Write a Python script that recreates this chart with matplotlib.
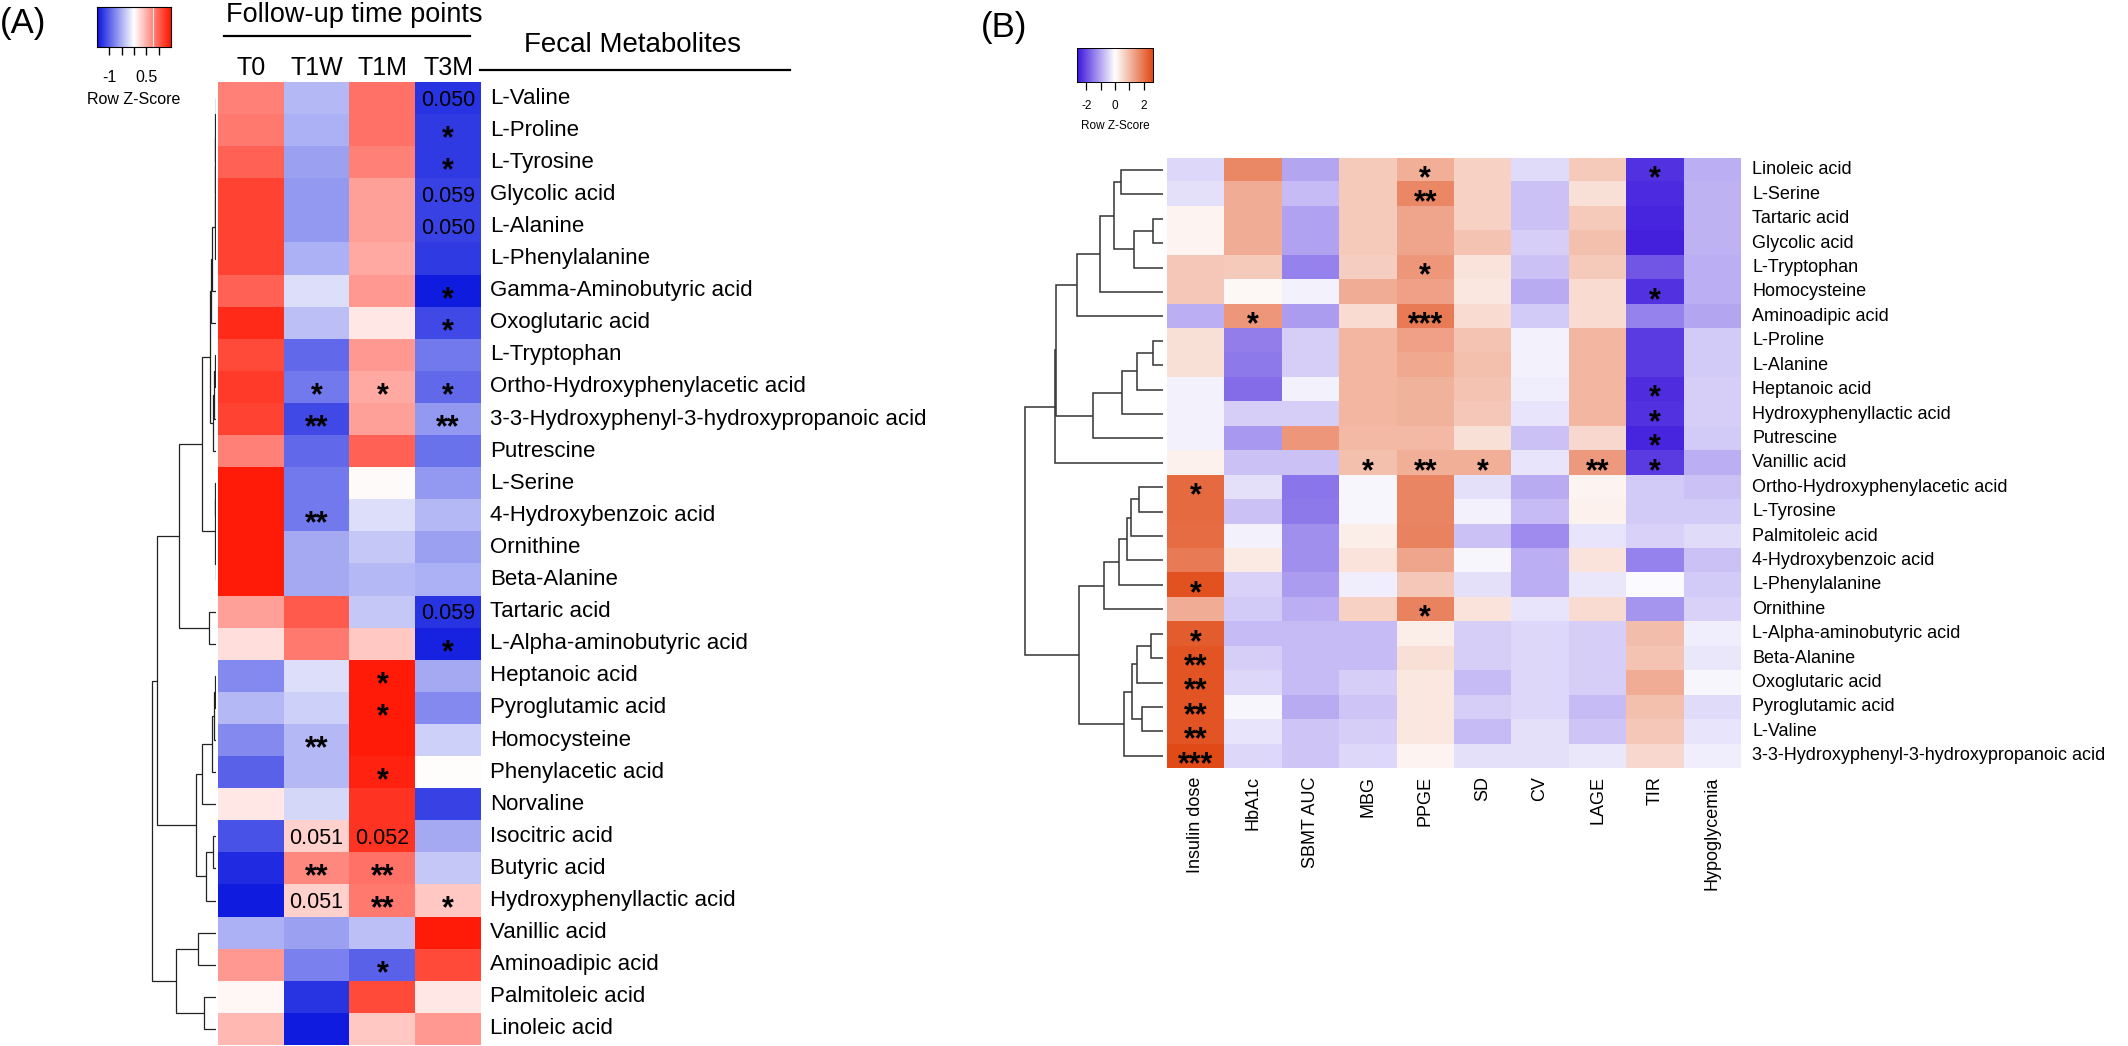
import numpy as np
import matplotlib
matplotlib.use('Agg')
import matplotlib.pyplot as plt
from matplotlib.colors import LinearSegmentedColormap
from matplotlib.lines import Line2D

plt.rcParams['font.family'] = ['Liberation Sans', 'DejaVu Sans']

# ---------------- Panel A data ----------------
a_timepoints = ['T0', 'T1W', 'T1M', 'T3M']
a_metabolites = [
    'L-Valine', 'L-Proline', 'L-Tyrosine', 'Glycolic acid', 'L-Alanine',
    'L-Phenylalanine', 'Gamma-Aminobutyric acid', 'Oxoglutaric acid',
    'L-Tryptophan', 'Ortho-Hydroxyphenylacetic acid',
    '3-3-Hydroxyphenyl-3-hydroxypropanoic acid', 'Putrescine', 'L-Serine',
    '4-Hydroxybenzoic acid', 'Ornithine', 'Beta-Alanine', 'Tartaric acid',
    'L-Alpha-aminobutyric acid', 'Heptanoic acid', 'Pyroglutamic acid',
    'Homocysteine', 'Phenylacetic acid', 'Norvaline', 'Isocitric acid',
    'Butyric acid', 'Hydroxyphenyllactic acid', 'Vanillic acid',
    'Aminoadipic acid', 'Palmitoleic acid', 'Linoleic acid']
a_zscores = [
    [0.80, -0.45, 0.90, -1.30],
    [0.85, -0.50, 0.90, -1.25],
    [1.00, -0.60, 0.80, -1.25],
    [1.20, -0.65, 0.60, -1.20],
    [1.20, -0.65, 0.60, -1.20],
    [1.20, -0.50, 0.55, -1.25],
    [1.00, -0.20, 0.65, -1.45],
    [1.35, -0.40, 0.15, -1.15],
    [1.15, -0.95, 0.65, -0.85],
    [1.25, -0.85, 0.55, -0.95],
    [1.20, -1.15, 0.60, -0.65],
    [0.80, -0.95, 1.00, -0.90],
    [1.45, -0.85, 0.03, -0.65],
    [1.45, -0.85, -0.20, -0.45],
    [1.45, -0.55, -0.35, -0.60],
    [1.45, -0.55, -0.45, -0.50],
    [0.60, 1.05, -0.35, -1.30],
    [0.20, 0.85, 0.35, -1.40],
    [-0.75, -0.20, 1.45, -0.55],
    [-0.45, -0.30, 1.45, -0.75],
    [-0.75, -0.45, 1.45, -0.30],
    [-1.00, -0.45, 1.40, 0.02],
    [0.15, -0.25, 1.30, -1.20],
    [-1.10, 0.30, 1.30, -0.55],
    [-1.35, 0.75, 0.90, -0.35],
    [-1.45, 0.30, 0.85, 0.35],
    [-0.50, -0.60, -0.40, 1.45],
    [0.65, -0.80, -1.00, 1.15],
    [0.05, -1.30, 1.15, 0.15],
    [0.45, -1.45, 0.35, 0.65]]
# (row, column, text)
a_marks = [
    (0, 3, '0.050'), (1, 3, '*'), (2, 3, '*'), (3, 3, '0.059'), (4, 3, '0.050'),
    (6, 3, '*'), (7, 3, '*'), (9, 1, '*'), (9, 2, '*'), (9, 3, '*'),
    (10, 1, '**'), (10, 3, '**'), (13, 1, '**'), (16, 3, '0.059'), (17, 3, '*'),
    (18, 2, '*'), (19, 2, '*'), (20, 1, '**'), (21, 2, '*'),
    (23, 1, '0.051'), (23, 2, '0.052'), (24, 1, '**'), (24, 2, '**'),
    (25, 1, '0.051'), (25, 2, '**'), (25, 3, '*'), (27, 2, '*')]
# row dendrogram pieces: (left, right, merge height)
a_c0_7 = (((((((0, 1, 0.5), 2, 0.8), 3, 1.0), 4, 1.2), 5, 1.5), 6, 4.0), 7, 5.0)
a_c8_11 = (((8, 9, 1.0), 10, 2.0), 11, 3.0)
a_c12_15 = ((12, 13, 1.0), (14, 15, 0.5), 1.5)
a_c18_25 = (((((18, 19, 1.0), 20, 2.5), 21, 4.0), 22, 14.0),
            ((23, 24, 3.0), 25, 10.0), 20.0)
a_c26_29 = ((26, 27, 18.0), (28, 29, 12.0), 40.0)
a_tree = (((((a_c0_7, a_c8_11, 6.0), a_c12_15, 14.0), (16, 17, 7.0), 37.0),
           a_c18_25, 59.0), a_c26_29, 64.0)

# ---------------- Panel B data ----------------
b_clinical = ['Insulin dose', 'HbA1c', 'SBMT AUC', 'MBG', 'PPGE', 'SD', 'CV',
              'LAGE', 'TIR', 'Hypoglycemia']
b_metabolites = [
    'Linoleic acid', 'L-Serine', 'Tartaric acid', 'Glycolic acid',
    'L-Tryptophan', 'Homocysteine', 'Aminoadipic acid', 'L-Proline',
    'L-Alanine', 'Heptanoic acid', 'Hydroxyphenyllactic acid', 'Putrescine',
    'Vanillic acid', 'Ortho-Hydroxyphenylacetic acid', 'L-Tyrosine',
    'Palmitoleic acid', '4-Hydroxybenzoic acid', 'L-Phenylalanine',
    'Ornithine', 'L-Alpha-aminobutyric acid', 'Beta-Alanine',
    'Oxoglutaric acid', 'Pyroglutamic acid', 'L-Valine',
    '3-3-Hydroxyphenyl-3-hydroxypropanoic acid']
b_zscores = [
    [-0.45, 1.70, -1.00, 0.75, 1.15, 0.65, -0.40, 0.75, -2.30, -0.90],
    [-0.35, 1.20, -0.75, 0.75, 1.70, 0.65, -0.70, 0.45, -2.40, -0.85],
    [0.15, 1.20, -1.05, 0.75, 1.30, 0.65, -0.70, 0.75, -2.45, -0.85],
    [0.15, 1.20, -1.05, 0.75, 1.30, 0.85, -0.55, 0.90, -2.50, -0.85],
    [0.80, 0.75, -1.40, 0.70, 1.50, 0.40, -0.70, 0.75, -1.90, -0.90],
    [0.80, 0.10, -0.15, 1.20, 1.35, 0.35, -0.95, 0.50, -2.30, -0.90],
    [-0.90, 1.50, -1.10, 0.50, 1.90, 0.50, -0.60, 0.50, -1.40, -1.00],
    [0.45, -1.45, -0.55, 1.05, 1.35, 0.85, -0.15, 1.05, -2.20, -0.60],
    [0.45, -1.50, -0.55, 1.05, 1.25, 0.90, -0.15, 1.05, -2.20, -0.60],
    [-0.15, -1.65, -0.15, 1.05, 1.10, 0.85, -0.20, 1.05, -2.35, -0.55],
    [-0.15, -0.55, -0.55, 1.05, 1.10, 0.80, -0.30, 1.05, -2.30, -0.55],
    [-0.15, -1.15, 1.50, 1.00, 1.00, 0.45, -0.70, 0.55, -2.45, -0.60],
    [0.20, -0.70, -0.70, 0.90, 1.15, 1.15, -0.30, 1.45, -2.20, -0.90],
    [2.15, -0.35, -1.55, -0.10, 1.75, -0.35, -0.95, 0.15, -0.60, -0.70],
    [2.15, -0.70, -1.50, -0.10, 1.75, -0.15, -0.75, 0.20, -0.60, -0.60],
    [2.10, -0.15, -1.25, 0.25, 1.80, -0.70, -1.30, -0.30, -0.50, -0.40],
    [1.90, 0.30, -1.25, 0.40, 1.30, -0.10, -0.90, 0.40, -1.40, -0.70],
    [2.50, -0.50, -1.10, -0.20, 0.80, -0.35, -0.90, -0.25, -0.05, -0.60],
    [1.20, -0.60, -0.90, 0.65, 1.80, 0.40, -0.30, 0.50, -1.20, -0.50],
    [2.35, -0.75, -0.75, -0.75, 0.25, -0.55, -0.45, -0.55, 0.95, -0.20],
    [2.45, -0.55, -0.75, -0.75, 0.45, -0.55, -0.45, -0.55, 0.85, -0.25],
    [2.45, -0.45, -0.75, -0.55, 0.35, -0.75, -0.45, -0.55, 1.20, -0.10],
    [2.45, -0.10, -0.95, -0.65, 0.35, -0.55, -0.45, -0.75, 0.90, -0.40],
    [2.45, -0.30, -0.65, -0.55, 0.35, -0.75, -0.35, -0.65, 0.80, -0.30],
    [2.60, -0.45, -0.65, -0.45, 0.15, -0.35, -0.35, -0.25, 0.55, -0.20]]
b_marks = [
    (0, 4, '*'), (0, 8, '*'), (1, 4, '**'), (4, 4, '*'), (5, 8, '*'),
    (6, 1, '*'), (6, 4, '***'), (9, 8, '*'), (10, 8, '*'), (11, 8, '*'),
    (12, 3, '*'), (12, 4, '**'), (12, 5, '*'), (12, 7, '**'), (12, 8, '*'),
    (13, 0, '*'), (17, 0, '*'), (18, 4, '*'), (19, 0, '*'), (20, 0, '**'),
    (21, 0, '**'), (22, 0, '**'), (23, 0, '**'), (24, 0, '***')]
b_c0_6 = ((((0, 1, 42), ((2, 3, 10), 4, 29), 49), 5, 63), 6, 86)
b_c7_11 = ((((7, 8, 10), 9, 26), 10, 41), 11, 70)
b_c13_18 = (((((13, 14, 24), 15, 32), 16, 36), 17, 44), 18, 59)
b_c19_24 = ((((19, 20, 12), 21, 26), (22, 23, 21), 31), 24, 39)
b_tree = (((b_c0_6, b_c7_11, 107), 12, 108), (b_c13_18, b_c19_24, 84), 138)

# ---------------- figure ----------------
W, H = 2128, 1046
fig = plt.figure(figsize=(W / 100, H / 100), dpi=100)


def rect(x0, y0, x1, y1):
    return [x0 / W, 1 - y1 / H, (x1 - x0) / W, (y1 - y0) / H]


def fx(x):
    return x / W


def fy(y):
    return 1 - y / H


cmap_a = LinearSegmentedColormap.from_list('a', ['#0814DE', '#FFFFFF', '#FF1400'])
cmap_b = LinearSegmentedColormap.from_list('b', ['#3A14DC', '#FFFFFF', '#E04814'])


def draw_tree(ax, node, color, lw):
    if isinstance(node, int):
        return node + 0.5, 0.0
    left, right, h = node
    y1, h1 = draw_tree(ax, left, color, lw)
    y2, h2 = draw_tree(ax, right, color, lw)
    ax.plot([h1, h, h, h2], [y1, y1, y2, y2], color=color, lw=lw,
            solid_capstyle='butt', solid_joinstyle='miter')
    return (y1 + y2) / 2, h


def cell_text(ax, col, row, s, star_fs, num_fs):
    if '*' in s:
        ax.annotate(s, xy=(col + 0.5, row + 0.5), xytext=(0, -0.56 * star_fs),
                    textcoords='offset points', ha='center', va='baseline',
                    fontsize=star_fs, fontweight='bold', color='black')
    else:
        ax.annotate(s, xy=(col + 0.5, row + 0.5), xytext=(0, -0.36 * num_fs),
                    textcoords='offset points', ha='center', va='baseline',
                    fontsize=num_fs, color='black')


# ---------- Panel A ----------
a_vals = np.array(a_zscores)
na_r, na_c = a_vals.shape
axA = fig.add_axes(rect(218, 82, 481, 1045))
axA.imshow(a_vals, cmap=cmap_a, vmin=-1.5, vmax=1.5, aspect='auto',
           extent=(0, na_c, na_r, 0), interpolation='nearest')
axA.set_xlim(0, na_c)
axA.set_ylim(na_r, 0)
axA.axis('off')
for i, name in enumerate(a_metabolites):
    axA.annotate(name, xy=(na_c, i + 0.5), xytext=(6.5, 0), textcoords='offset points',
                 ha='left', va='center', fontsize=16, annotation_clip=False)
for j, tp in enumerate(a_timepoints):
    axA.annotate(tp, xy=(j + 0.5, 0), xytext=(0, 5), textcoords='offset points',
                 ha='center', va='baseline', fontsize=18, annotation_clip=False)
for r, c, s in a_marks:
    cell_text(axA, c, r, s, 22, 15.5)

axAd = fig.add_axes(rect(140, 82, 216, 1045))
draw_tree(axAd, a_tree, '#222222', 0.9)
axAd.set_xlim(76, 0)
axAd.set_ylim(na_r, 0)
axAd.axis('off')

# colour key A
axAk = fig.add_axes(rect(97, 7, 171, 47))
grad = np.linspace(-1.5, 1.5, 256)[None, :]
axAk.imshow(grad, cmap=cmap_a, vmin=-1.5, vmax=1.5, aspect='auto',
            extent=(-1.5, 1.5, 0, 1))
axAk.axvline(0.77, color='#FFE6E6', lw=0.8)
axAk.set_xlim(-1.5, 1.5)
axAk.set_ylim(0, 1)
axAk.set_yticks([])
axAk.set_xticks([-1, -0.5, 0, 0.5, 1])
axAk.tick_params(axis='x', length=6, width=1, labelbottom=False)
for sp in axAk.spines.values():
    sp.set_linewidth(0.8)
axAk.text(-1, -0.75, '-1', ha='center', va='center', fontsize=11.5)
axAk.text(0.5, -0.75, '0.5', ha='center', va='center', fontsize=11.5)
axAk.text(0, -1.3, 'Row Z-Score', ha='center', va='center', fontsize=11.5)

fig.text(fx(0), fy(24), '(A)', ha='left', va='center', fontsize=25)
fig.text(fx(354), fy(22), 'Follow-up time points', ha='center', va='baseline', fontsize=19.5)
fig.add_artist(Line2D([fx(224), fx(470)], [fy(36), fy(36)], color='black', lw=1.6))
fig.text(fx(633), fy(52), 'Fecal Metabolites', ha='center', va='baseline', fontsize=20)
fig.add_artist(Line2D([fx(480), fx(790)], [fy(70), fy(70)], color='black', lw=1.6))

# ---------- Panel B ----------
b_vals = np.array(b_zscores)
nb_r, nb_c = b_vals.shape
axB = fig.add_axes(rect(1167, 157.7, 1741, 768))
axB.imshow(b_vals, cmap=cmap_b, vmin=-2.65, vmax=2.65, aspect='auto',
           extent=(0, nb_c, nb_r, 0), interpolation='nearest')
axB.set_xlim(0, nb_c)
axB.set_ylim(nb_r, 0)
axB.axis('off')
for i, name in enumerate(b_metabolites):
    axB.annotate(name, xy=(nb_c, i + 0.5), xytext=(8, 0), textcoords='offset points',
                 ha='left', va='center', fontsize=13, annotation_clip=False)
for j, cl in enumerate(b_clinical):
    axB.annotate(cl, xy=(j + 0.5, nb_r), xytext=(0, -6), textcoords='offset points',
                 ha='center', va='top', rotation=90, fontsize=13, annotation_clip=False)
for r, c, s in b_marks:
    cell_text(axB, c, r, s, 22, 13)

axBd = fig.add_axes(rect(1000, 157.7, 1163, 768))
draw_tree(axBd, b_tree, '#333333', 1.1)
axBd.set_xlim(163, 0)
axBd.set_ylim(nb_r, 0)
axBd.axis('off')

axBk = fig.add_axes(rect(1077, 48, 1153, 82))
gradb = np.linspace(-2.65, 2.65, 256)[None, :]
axBk.imshow(gradb, cmap=cmap_b, vmin=-2.65, vmax=2.65, aspect='auto',
            extent=(-2.65, 2.65, 0, 1))
axBk.set_xlim(-2.65, 2.65)
axBk.set_ylim(0, 1)
axBk.set_yticks([])
axBk.set_xticks([-2, -1, 0, 1, 2])
axBk.tick_params(axis='x', length=6, width=0.9, labelbottom=False)
for sp in axBk.spines.values():
    sp.set_linewidth(0.7)
for v in (-2, 0, 2):
    axBk.text(v, -0.7, str(v), ha='center', va='center', fontsize=8.5)
axBk.text(0, -1.28, 'Row Z-Score', ha='center', va='center', fontsize=8.5)

fig.text(fx(1004), fy(28), '(B)', ha='center', va='center', fontsize=25)

fig.savefig('out.png', dpi=100)
